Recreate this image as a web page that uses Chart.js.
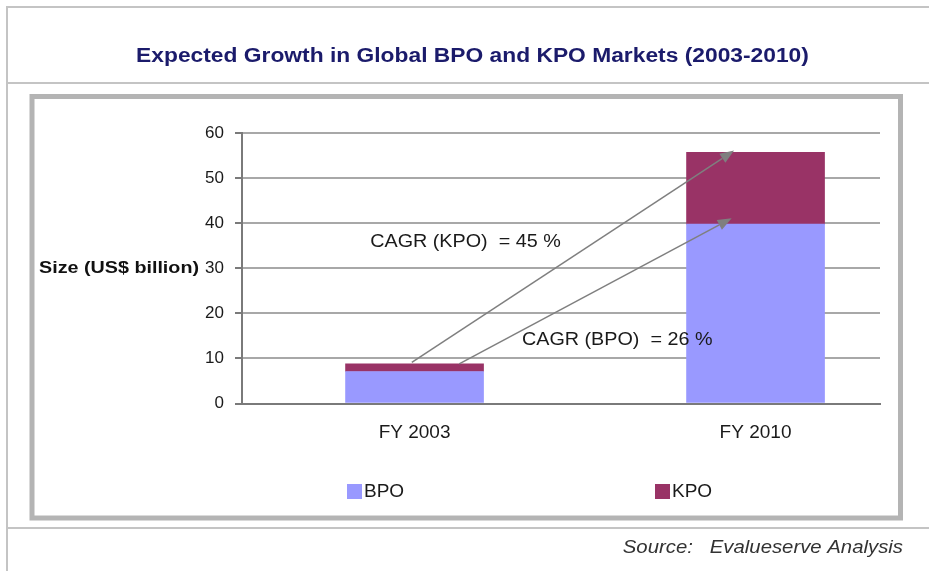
<!DOCTYPE html>
<html>
<head>
<meta charset="utf-8">
<script src="https://cdn.jsdelivr.net/npm/chart.js@4/dist/chart.umd.min.js"></script>
<style>
html,body{margin:0;padding:0;background:#fff;}
#wrap{width:929px;height:571px;position:relative;}
</style>
</head>
<body>
<div id="wrap"><canvas id="c" width="929" height="571"></canvas></div>
<script>
// ---- data ----
const categories = ["FY 2003", "FY 2010"];
const bpoValues = [7.1, 39.8];
const kpoValues = [1.7, 15.9];
const yTicks = [0, 10, 20, 30, 40, 50, 60];
const seriesNames = ["BPO", "KPO"];
const seriesColors = ["#9999FF", "#993366"];
const titleText = "Expected Growth in Global BPO and KPO Markets (2003-2010)";
const yAxisLabel = "Size (US$ billion)";
const sourceText = "Source:   Evalueserve Analysis";
// annotation arrows in data units (category index, value)
const arrowStarts = [[-0.008, 9.1], [0.131, 8.8]];
const arrowEnds = [[0.937, 56.1], [0.930, 41.1]];
const cagrLabels = ["CAGR (KPO)  = 45 %", "CAGR (BPO)  = 26 %"];
const cagrAnchors = [[-0.13, 35.9], [0.315, 14.1]];

const FONT = "'Liberation Sans', Arial, sans-serif";

function stretchedText(ctx, text, x, y, sx, align) {
  ctx.save();
  ctx.translate(x, y);
  ctx.scale(sx, 1);
  ctx.textAlign = align;
  ctx.fillText(text, 0, 0);
  ctx.restore();
}

const decor = {
  id: 'decor',
  beforeDraw(chart) {
    const ctx = chart.ctx;
    ctx.save();
    ctx.fillStyle = '#fff';
    ctx.fillRect(0, 0, chart.width, chart.height);
    ctx.strokeStyle = '#c4c4c4';
    ctx.lineWidth = 2;
    ctx.beginPath();
    ctx.moveTo(6, 7); ctx.lineTo(929, 7);
    ctx.moveTo(7, 6); ctx.lineTo(7, 571);
    ctx.moveTo(7, 83); ctx.lineTo(929, 83);
    ctx.moveTo(7, 528); ctx.lineTo(929, 528);
    ctx.stroke();
    ctx.strokeStyle = '#b4b4b4';
    ctx.lineWidth = 5;
    ctx.strokeRect(32, 96.5, 868.5, 421.5);
    ctx.restore();
  },
  afterDatasetsDraw(chart) {
    const ctx = chart.ctx;
    const xs = chart.scales.x, ys = chart.scales.y;
    ctx.save();
    ctx.strokeStyle = '#7f7f7f';
    ctx.fillStyle = '#7f7f7f';
    ctx.lineWidth = 1.5;
    for (let i = 0; i < arrowStarts.length; i++) {
      const x1 = xs.getPixelForValue(arrowStarts[i][0]);
      const y1 = ys.getPixelForValue(arrowStarts[i][1]);
      const x2 = xs.getPixelForValue(arrowEnds[i][0]);
      const y2 = ys.getPixelForValue(arrowEnds[i][1]);
      const a = Math.atan2(y2 - y1, x2 - x1);
      const L = 14, W = 5.5;
      const bx = x2 - L * Math.cos(a), by = y2 - L * Math.sin(a);
      ctx.beginPath();
      ctx.moveTo(x1, y1); ctx.lineTo(bx, by);
      ctx.stroke();
      ctx.beginPath();
      ctx.moveTo(x2, y2);
      ctx.lineTo(bx + W * Math.sin(a), by - W * Math.cos(a));
      ctx.lineTo(bx - W * Math.sin(a), by + W * Math.cos(a));
      ctx.closePath();
      ctx.fill();
    }
    ctx.fillStyle = '#1a1a1a';
    ctx.font = '19px ' + FONT;
    ctx.textBaseline = 'middle';
    for (let i = 0; i < cagrLabels.length; i++) {
      stretchedText(ctx, cagrLabels[i], xs.getPixelForValue(cagrAnchors[i][0]), ys.getPixelForValue(cagrAnchors[i][1]), 1.04, 'left');
    }
    ctx.restore();
  },
  afterDraw(chart) {
    const ctx = chart.ctx;
    ctx.save();
    ctx.textBaseline = 'middle';
    // title
    ctx.fillStyle = '#1b1b6b';
    ctx.font = 'bold 20px ' + FONT;
    stretchedText(ctx, titleText, 472.5, 56, 1.14, 'center');
    // y axis label
    ctx.fillStyle = '#111';
    ctx.font = 'bold 17px ' + FONT;
    stretchedText(ctx, yAxisLabel, 199, 268, 1.16, 'right');
    // legend
    const legendX = [347, 655];
    ctx.font = '19px ' + FONT;
    for (let i = 0; i < seriesNames.length; i++) {
      ctx.fillStyle = seriesColors[i];
      ctx.fillRect(legendX[i], 484, 15, 15);
      ctx.fillStyle = '#1a1a1a';
      stretchedText(ctx, seriesNames[i], legendX[i] + 17, 492, 1.0, 'left');
    }
    // source
    ctx.fillStyle = '#333';
    ctx.font = 'italic 19px ' + FONT;
    stretchedText(ctx, sourceText, 903, 548, 1.07, 'right');
    ctx.restore();
  }
};

new Chart(document.getElementById('c'), {
  type: 'bar',
  data: {
    datasets: [
      { label: seriesNames[0], data: bpoValues.map((v, i) => ({ x: i, y: v })), backgroundColor: seriesColors[0], borderWidth: 0, barThickness: 138 },
      { label: seriesNames[1], data: kpoValues.map((v, i) => ({ x: i, y: v })), backgroundColor: seriesColors[1], borderWidth: 0, barThickness: 138 }
    ]
  },
  options: {
    responsive: false,
    animation: false,
    layout: { padding: { left: 0, right: 49, top: 133, bottom: 127.5 } },
    plugins: { legend: { display: false }, title: { display: false }, tooltip: { enabled: false } },
    scales: {
      x: {
        type: 'linear',
        stacked: true,
        offset: false,
        min: -0.506,
        max: 1.365,
        afterBuildTicks: s => { s.ticks = categories.map((c, i) => ({ value: i })); },
        afterFit: s => { s.height = 40; },
        grid: { display: false, drawTicks: false, offset: false },
        border: { display: true, color: '#7a7a7a', width: 2 },
        ticks: { callback: v => categories[v], color: '#1a1a1a', font: { family: FONT, size: 19 }, padding: 18, autoSkip: false, maxRotation: 0 }
      },
      y: {
        stacked: true,
        min: yTicks[0],
        max: yTicks[yTicks.length - 1],
        afterBuildTicks: s => { s.ticks = yTicks.map(v => ({ value: v })); },
        afterFit: s => { s.width = 242; },
        grid: { color: '#a8a8a8', lineWidth: 2, tickLength: 7, tickColor: '#7a7a7a' },
        border: { display: true, color: '#7a7a7a', width: 2 },
        ticks: { color: '#1a1a1a', font: { family: FONT, size: 17 }, padding: 11 }
      }
    }
  },
  plugins: [decor]
});
</script>
</body>
</html>
